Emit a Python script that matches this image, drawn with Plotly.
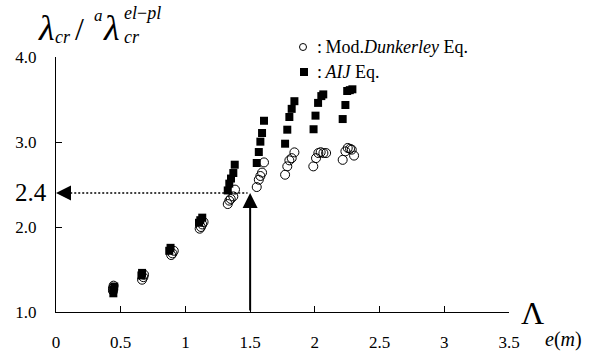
import plotly.graph_objects as go

# ---- data ----
mod_x = [0.44, 0.44, 0.445, 0.665, 0.675, 0.68, 0.89, 0.90, 0.91,
         1.11, 1.12, 1.13, 1.14,
         1.327, 1.339, 1.35, 1.37, 1.383,
         1.551, 1.567, 1.579, 1.592, 1.607,
         1.77, 1.787, 1.803, 1.821, 1.842,
         1.988, 2.009, 2.027, 2.045, 2.066, 2.087,
         2.215, 2.236, 2.254, 2.272, 2.285, 2.303]
mod_y = [1.25, 1.28, 1.31, 1.38, 1.41, 1.44, 1.67, 1.69, 1.72,
         1.98, 2.00, 2.03, 2.06,
         2.27, 2.31, 2.33, 2.36, 2.44,
         2.47, 2.556, 2.60, 2.64, 2.76,
         2.615, 2.713, 2.784, 2.81, 2.878,
         2.713, 2.81, 2.87, 2.88, 2.87, 2.87,
         2.79, 2.89, 2.93, 2.92, 2.91, 2.84]

aij_x = [0.443, 0.443, 0.45, 0.66, 0.665, 0.875, 0.885,
         1.105, 1.115, 1.13,
         1.327, 1.339, 1.352, 1.37, 1.381,
         1.551, 1.567, 1.579, 1.592, 1.607,
         1.77, 1.787, 1.803, 1.821, 1.842,
         1.99, 2.005, 2.025, 2.05, 2.065,
         2.215, 2.236, 2.25, 2.27, 2.29]
aij_y = [1.22, 1.26, 1.30, 1.43, 1.46, 1.72, 1.755,
         2.05, 2.08, 2.11,
         2.43, 2.51, 2.57, 2.635, 2.733,
         2.753, 2.882, 3.004, 3.106, 3.25,
         2.98, 3.145, 3.294, 3.39, 3.48,
         3.15, 3.31, 3.46, 3.54, 3.56,
         3.27, 3.435, 3.60, 3.61, 3.62]

x_ticks = [0, 0.5, 1, 1.5, 2, 2.5, 3, 3.5]
y_ticks = [1.0, 2.0, 3.0, 4.0]
ref_lambda = 1.5
ref_ratio = 2.4
ref_label = "2.4"

# ---- layout geometry ----
W, H = 593, 354
ML, MR, MT, MB = 56, 84, 57, 42
PW, PH = W - ML - MR, H - MT - MB


def px(p):
    return (p - ML) / PW


def py(p):
    return (H - MB - p) / PH


SERIF = "Liberation Serif"

fig = go.Figure()
fig.add_trace(go.Scatter(
    x=mod_x, y=mod_y, mode="markers", name="Mod.Dunkerley Eq.",
    marker=dict(symbol="circle-open", size=9, color="black", line=dict(width=1)),
    cliponaxis=False, showlegend=False))
fig.add_trace(go.Scatter(
    x=aij_x, y=aij_y, mode="markers", name="AIJ Eq.",
    marker=dict(symbol="square", size=8, color="black"),
    cliponaxis=False, showlegend=False))

shapes = [
    dict(type="line", xref="x", yref="y", x0=0.11, x1=ref_lambda - 0.02,
         y0=ref_ratio, y1=ref_ratio, line=dict(color="black", width=1.5, dash="2px,2px")),
    # legend symbols
    dict(type="circle", xref="paper", yref="paper",
         x0=px(299.5), x1=px(306.5), y0=py(50.5), y1=py(43.5),
         line=dict(color="black", width=1)),
    dict(type="rect", xref="paper", yref="paper",
         x0=px(300), x1=px(308), y0=py(76), y1=py(68),
         fillcolor="black", line=dict(width=0)),
]

ann = []
# arrows
ann.append(dict(x=ref_lambda, y=ref_ratio, ax=ref_lambda, ay=1.0, xref="x", yref="y",
                axref="x", ayref="y", text="", showarrow=True, arrowhead=2,
                arrowwidth=2, arrowsize=1.5, arrowcolor="black"))
ann.append(dict(x=0, y=ref_ratio, ax=0.125, ay=ref_ratio, xref="x", yref="y",
                axref="x", ayref="y", text="", showarrow=True, arrowhead=2,
                arrowwidth=2, arrowsize=1.5, arrowcolor="black"))


def txt(t, x, y, size, font=SERIF, xanchor="center", yanchor="middle"):
    ann.append(dict(text=t, x=px(x), y=py(y), xref="paper", yref="paper",
                    showarrow=False, xanchor=xanchor, yanchor=yanchor,
                    font=dict(family=font, size=size, color="black")))


# 2.4 label
txt(ref_label, 31, 192, 25)
# legend texts
txt(":&#8201;Mod.<i>Dunkerley</i> Eq.", 315, 47, 18, xanchor="left")
txt(":&#8201;<i>AIJ</i> Eq.", 315, 72, 18, xanchor="left")
# y title pieces
txt("<i>λ</i>", 46, 28, 36)
txt("<i>cr</i>", 53, 37, 18, xanchor="left")
txt("/", 79, 29, 32)
txt("<i>a</i>", 98, 16, 17)
txt("<i>λ</i>", 111, 28, 36)
txt("<i>el</i>−<i>pl</i>", 122, 13, 18, xanchor="left")
txt("<i>cr</i>", 122, 37, 18, xanchor="left")
# x title pieces
txt("Λ", 532, 313, 32)
txt("<i>e</i>(<i>m</i>)", 543, 339, 20, xanchor="left")

fig.update_layout(
    width=W, height=H,
    margin=dict(l=ML, r=MR, t=MT, b=MB, pad=0, autoexpand=False),
    paper_bgcolor="white", plot_bgcolor="white",
    showlegend=False,
    shapes=shapes, annotations=ann,
    xaxis=dict(range=[0, 3.5], tickvals=x_ticks, ticktext=[f"{v:g}" for v in x_ticks],
               ticks="inside", ticklen=6, tickwidth=1, tickcolor="black",
               showline=True, linecolor="black", linewidth=1.2, showgrid=False,
               zeroline=False, ticklabelstandoff=14, automargin=False,
               tickfont=dict(family=SERIF, size=17, color="black")),
    yaxis=dict(range=[1, 4], tickvals=y_ticks, ticktext=[f"{v:.1f}" for v in y_ticks],
               ticks="inside", ticklen=6, tickwidth=1, tickcolor="black",
               showline=True, linecolor="black", linewidth=1.2, showgrid=False,
               zeroline=False, ticklabelstandoff=15, automargin=False,
               tickfont=dict(family=SERIF, size=17, color="black")),
)

fig.write_html("out.html")
